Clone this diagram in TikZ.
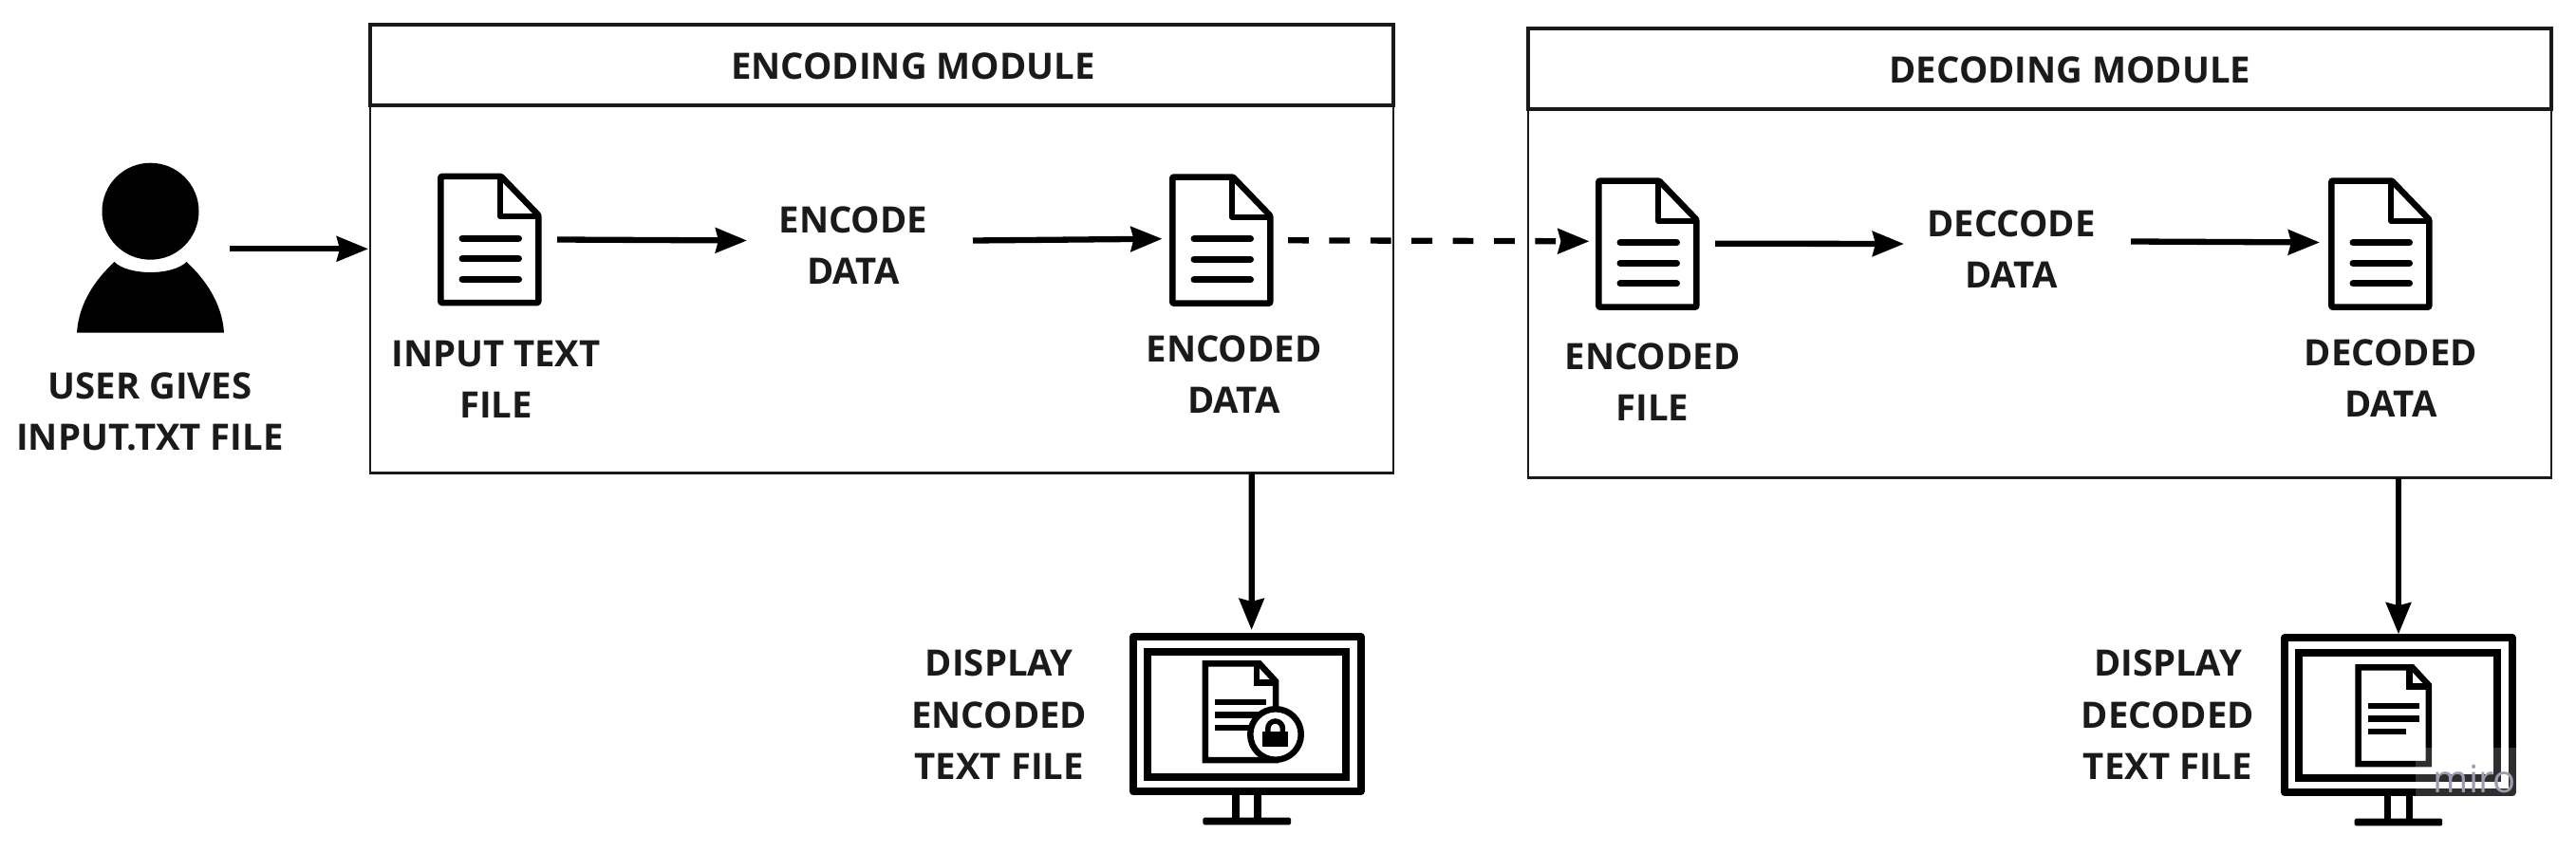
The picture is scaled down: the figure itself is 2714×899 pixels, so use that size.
\documentclass[tikz,border=0pt]{standalone}
\usepackage{fontspec}
\setmainfont{Open Sans}
\usetikzlibrary{arrows.meta}
\definecolor{ink}{HTML}{1A1A1A}
\definecolor{miroink}{HTML}{9C9BB0}
\newcommand{\lbl}[1]{\begin{tabular}[t]{@{}c@{}}#1\end{tabular}}
\tikzset{
  x=1pt,y=-1pt,
  label text/.style={inner sep=0pt,outer sep=0pt,anchor=base,text=ink,font=\fontsize{38.3}{54}\selectfont\bfseries},
  label three/.style={label text,font=\fontsize{38.3}{54.5}\selectfont\bfseries},
  ghost/.style={inner sep=0pt,outer sep=0pt,draw=none},
  modbody/.style={inner sep=0pt,outer sep=0pt,draw=ink,line width=2.6pt,fill=white,minimum width=1078pt},
  modhead/.style={inner sep=0pt,outer sep=0pt,draw=ink,line width=4pt,minimum width=1078pt,minimum height=85pt},
  conn/.style={line width=6.3pt,-{Stealth[length=33pt,width=26pt,inset=3pt]}},
  pics/docicon/.style={code={
    \draw[line width=6.5pt,line join=round,rounded corners=1pt] (3.25,3.25) -- (67,3.25) -- (106.25,44) -- (106.25,136.35) -- (3.25,136.35) -- cycle;
    \draw[line width=6pt,line join=round] (66,3.25) -- (66,45.5) -- (106.25,45.5);
    \foreach \yy in {68.3,90,111.6}{\draw[line width=7pt,line cap=round] (26,\yy) -- (85.5,\yy);}
  }},
  pics/smalldoc/.style={code={
    \draw[line width=6.5pt] (3.25,3.25) -- (60,3.25) -- (77.35,22) -- (77.35,105.05) -- (3.25,105.05) -- cycle;
    \draw[line width=6.5pt] (57.3,3.25) -- (57.3,23.5) -- (77.35,23.5);
    \draw[line width=6.5pt] (13.3,44) -- (67.1,44);
    \draw[line width=6.5pt] (13.3,57.7) -- (67.1,57.7);
  }},
  pics/monitor/.style={code={
    \draw[line width=8pt,line join=round] (4,4) rectangle (243.8,167);
    \draw[line width=8pt] (18.9,19.4) rectangle (228.2,151.7);
    \draw[line width=7.5pt] (112.3,171) -- (112.3,198);
    \draw[line width=7.5pt] (135.3,171) -- (135.3,198);
    \fill[rounded corners=1.5pt] (77.6,194.4) rectangle (170.2,202);
  }}
}
\begin{document}
\begin{tikzpicture}
\useasboundingbox (0,0) rectangle (2714,899);
\fill[white] (0,0) rectangle (2714,899);

% module boxes
\node[modbody,minimum height=473pt] (encbody) at (929,262.2) {};
\node[modhead] (enchead) at (929,68.2) {};
\node[modbody,minimum height=473.7pt] (decbody) at (2149,266.85) {};
\node[modhead] (dechead) at (2149,72.5) {};
\node[label text] (enctitle) at (962,83) {ENCODING MODULE};
\node[label text] (dectitle) at (2181,87.5) {DECODING MODULE};

% user
\fill (158.5,222.7) circle [radius=51pt];
\fill (81,350.7) .. controls (83,320) and (100,295) .. (120.5,276)
      .. controls (135,290.7) and (182,290.7) .. (196.5,276)
      .. controls (217,295) and (234,320) .. (236,350.7) -- cycle;
\node[ghost,minimum width=155pt,minimum height=177pt] (user) at (158.5,262.3) {};
\node[label text,minimum width=300pt] (usertext) at (158,420.7) {\lbl{USER GIVES\\INPUT.TXT FILE}};

% document icons
\pic at (461,182.7) {docicon};
\pic at (1232,183.3) {docicon};
\pic at (1681,187.3) {docicon};
\pic at (2453,187.3) {docicon};
\node[ghost,minimum width=109.5pt,minimum height=139.6pt] (doc1) at (515.75,252.5) {};
\node[ghost,minimum width=109.5pt,minimum height=139.6pt] (doc2) at (1286.75,253.1) {};
\node[ghost,minimum width=109.5pt,minimum height=139.6pt] (doc3) at (1735.75,257.1) {};
\node[ghost,minimum width=109.5pt,minimum height=139.6pt] (doc4) at (2507.75,257.1) {};

% labels
\node[label text] (t1) at (522.5,386) {\lbl{INPUT TEXT\\FILE}};
\node[label text,minimum width=180pt] (encode) at (899,245.5) {\lbl{ENCODE\\DATA}};
\node[label text] (t2) at (1300,381) {\lbl{ENCODED\\DATA}};
\node[label text] (t3) at (1741,389.5) {\lbl{ENCODED\\FILE}};
\node[label text,minimum width=180pt] (decode) at (2119,249) {\lbl{DECCODE\\DATA}};
\node[label text] (t4) at (2519,385) {\lbl{DECODED\\DATA}};
\node[label three] (t5) at (1052.8,712.7) {\lbl{DISPLAY\\ENCODED\\TEXT FILE}};
\node[label three] (t6) at (2284,712.7) {\lbl{DISPLAY\\DECODED\\TEXT FILE}};

% monitors
\pic at (1189.8,667.3) {monitor};
\pic at (2403,668.3) {monitor};
\node[ghost,minimum width=248pt,minimum height=171pt] (mon1) at (1313.8,752.8) {};
\node[ghost,minimum width=248pt,minimum height=171pt] (mon2) at (2527,753.8) {};

% document with lock
\pic at (1266.7,696) {smalldoc};
\draw[line width=6.5pt] (1280,767) -- (1333.8,767);
\draw[line width=6.5pt,fill=white] (1344,774) circle [radius=26.75pt];
\fill (1330.4,771) rectangle (1357.3,787.3);
\draw[line width=5.5pt] (1335.8,772) -- (1335.8,767.8) arc[start angle=180,end angle=0,radius=7.8pt] -- (1351.4,772);

% decoded document
\pic at (2481.4,700) {smalldoc};
\draw[line width=6.5pt] (2494.7,771) -- (2535.2,771);

% watermark
\fill[white,opacity=.18] (2545,788) rectangle (2652,839.3);
\node[inner sep=0pt,anchor=base east,text=miroink,font=\fontsize{40}{40}\selectfont] (miro) at (2651,835.7) {miro};

% connectors
\draw[conn] ([shift={(5.5,0)}]user.east) -- ([shift={(-2,0)}]encbody.west |- user.east);
\draw[conn] ([shift={(16.5,0)}]doc1.east) -- ([shift={(-22,-8.2)}]encode.west);
\draw[conn] ([shift={(36,-8.2)}]encode.east) -- ([shift={(-7.5,-1.4)}]doc2.west);
\draw[conn,dashed,dash pattern=on 21.8pt off 21.6pt] ([shift={(15.5,0.2)}]doc2.east) -- ([shift={(-6.5,-2.8)}]doc3.west);
\draw[conn] ([shift={(16.5,-0.4)}]doc3.east) -- ([shift={(-23,-8.2)}]decode.west);
\draw[conn] ([shift={(36,-10.7)}]decode.east) -- ([shift={(-9,-1.6)}]doc4.west);
\draw[conn] (encbody.south -| mon1.north) ++(5,0) -- ([shift={(4.8,-3.3)}]mon1.north);
\draw[conn] (decbody.south -| mon2.north) -- (mon2.north);
\end{tikzpicture}
\end{document}
